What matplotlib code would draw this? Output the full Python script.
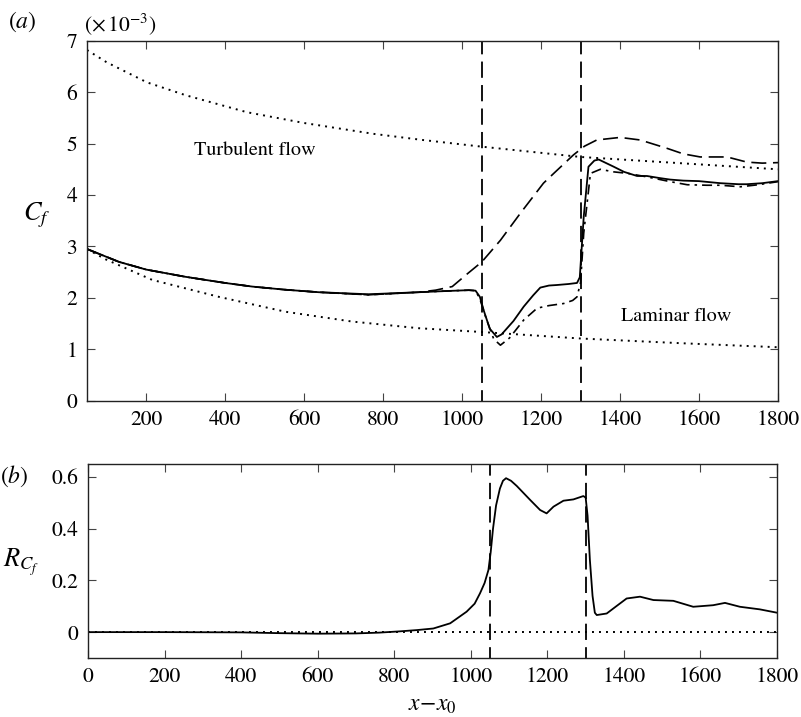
import matplotlib
matplotlib.use('Agg')
import matplotlib.pyplot as plt

plt.rcParams['font.family'] = ['STIXGeneral', 'DejaVu Serif']
plt.rcParams['mathtext.fontset'] = 'stix'
plt.rcParams['font.size'] = 14

# panel (a): skin friction coefficient (x 1e-3)
x_turb = [50, 100, 202, 300, 455, 600, 775, 900, 1050, 1300, 1550, 1800]
cf_turb = [6.82, 6.58, 6.19, 5.94, 5.61, 5.40, 5.19, 5.07, 4.94, 4.74, 4.62, 4.50]

x_lam = [50, 97, 215, 384, 553, 721, 890, 1042, 1300, 1550, 1800]
cf_lam = [2.95, 2.75, 2.35, 2.02, 1.73, 1.54, 1.41, 1.34, 1.21, 1.12, 1.04]

x_solid = [50, 131, 200, 299, 400, 468, 550, 637, 763, 890, 950, 1017, 1034, 1045, 1055,
           1070, 1088, 1100, 1130, 1156, 1180, 1198, 1220, 1240, 1270, 1291, 1298, 1308,
           1320, 1335, 1346, 1365, 1384, 1410, 1443, 1468, 1500, 1527, 1560, 1600, 1654,
           1700, 1721, 1760, 1800]
cf_solid = [2.95, 2.70, 2.55, 2.41, 2.29, 2.22, 2.16, 2.11, 2.07, 2.11, 2.13, 2.15, 2.14, 2.02, 1.75,
            1.40, 1.24, 1.29, 1.55, 1.83, 2.05, 2.20, 2.24, 2.25, 2.27, 2.29, 2.40, 3.58,
            4.55, 4.67, 4.69, 4.62, 4.55, 4.45, 4.37, 4.37, 4.33, 4.30, 4.28, 4.27, 4.23,
            4.21, 4.21, 4.23, 4.27]

x_dashdot = [50, 131, 200, 299, 400, 468, 550, 637, 763, 890, 950, 1017, 1034, 1045, 1060,
             1080, 1097, 1120, 1156, 1190, 1220, 1257, 1280, 1291, 1300, 1308, 1325, 1350,
             1384, 1420, 1470, 1527, 1570, 1620, 1654, 1705, 1750, 1800]
cf_dashdot = [2.95, 2.70, 2.55, 2.41, 2.29, 2.22, 2.16, 2.11, 2.06, 2.11, 2.13, 2.15, 2.14, 1.98, 1.62,
              1.20, 1.08, 1.22, 1.57, 1.80, 1.85, 1.89, 1.95, 2.02, 2.30, 3.26, 4.42, 4.50,
              4.45, 4.42, 4.35, 4.26, 4.20, 4.19, 4.19, 4.16, 4.20, 4.26]

x_dash = [50, 131, 200, 299, 400, 468, 550, 637, 763, 890, 933, 975, 1012, 1050, 1097, 1147,
          1206, 1232, 1282, 1310, 1341, 1400, 1451, 1518, 1560, 1603, 1671, 1721, 1760, 1800]
cf_dash = [2.95, 2.70, 2.55, 2.41, 2.29, 2.22, 2.16, 2.11, 2.06, 2.11, 2.15, 2.22, 2.46, 2.70, 3.12, 3.64,
           4.23, 4.42, 4.78, 4.95, 5.07, 5.12, 5.07, 4.91, 4.80, 4.74, 4.74, 4.64, 4.62, 4.63]

# panel (b)
x_r = [0, 200, 400, 500, 600, 700, 760, 815, 860, 902, 946, 989, 1010, 1024, 1036, 1046,
       1052, 1058, 1066, 1076, 1084, 1092, 1105, 1120, 1155, 1181, 1198, 1216, 1242, 1268,
       1294, 1300, 1305, 1311, 1318, 1324, 1329, 1355, 1380, 1407, 1442, 1477, 1529, 1581,
       1633, 1664, 1703, 1755, 1800]
r_cf = [0.0, 0.0, -0.001, -0.004, -0.006, -0.005, -0.002, 0.003, 0.008, 0.014, 0.034, 0.079,
        0.11, 0.15, 0.19, 0.24, 0.31, 0.40, 0.49, 0.555, 0.585, 0.595, 0.585, 0.565, 0.511,
        0.472, 0.459, 0.485, 0.508, 0.513, 0.526, 0.52, 0.45, 0.28, 0.14, 0.075, 0.066, 0.072,
        0.10, 0.13, 0.137, 0.124, 0.121, 0.098, 0.104, 0.113, 0.098, 0.088, 0.075]

x_lines = [1050, 1300]

fig = plt.figure(figsize=(8.01, 7.17), dpi=100)
ax1 = fig.add_axes([0.1086, 0.4411, 0.8627, 0.5021])
ax2 = fig.add_axes([0.1099, 0.0823, 0.8602, 0.2706])

dots = (0, (1, 2.6))
ax1.plot(x_turb, cf_turb, color='k', lw=1.4, linestyle=dots)
ax1.plot(x_lam, cf_lam, color='k', lw=1.4, linestyle=dots)
ax1.plot(x_dash, cf_dash, color='k', lw=1.2, linestyle=(0, (9, 4)))
ax1.plot(x_dashdot, cf_dashdot, color='k', lw=1.2, linestyle=(0, (6, 3, 1.5, 3)))
ax1.plot(x_solid, cf_solid, color='k', lw=1.3)
for xv in x_lines:
    ax1.axvline(xv, color='k', lw=1.3, linestyle=(3, (9, 4)))
ax1.set_xlim(50, 1800)
ax1.set_ylim(0, 7)
ax1.set_xticks(range(200, 1801, 200))
ax1.set_yticks(range(0, 8))
ax1.text(474, 4.86, 'Turbulent flow', ha='center', va='center', fontsize=14.5)
ax1.text(1543, 1.63, 'Laminar flow', ha='center', va='center', fontsize=14.5)

ax2.plot([0, 1800], [0, 0], color='k', lw=1.4, linestyle=dots)
ax2.plot(x_r, r_cf, color='k', lw=1.3)
for xv in x_lines:
    ax2.axvline(xv, color='k', lw=1.3, linestyle=(3, (9, 4)))
ax2.set_xlim(0, 1800)
ax2.set_ylim(-0.1, 0.65)
ax2.set_xticks(range(0, 1801, 200))
ax2.set_yticks([0, 0.2, 0.4, 0.6])
ax2.set_yticklabels(['0', '0.2', '0.4', '0.6'])
ax2.set_xlabel(r'$x\!-\!x_0$', labelpad=5, fontsize=17)

for ax in (ax1, ax2):
    ax.tick_params(direction='in', top=True, right=True, length=6, width=0.8, pad=7,
                   labelsize=15.5, color='#444444')
    for s in ax.spines.values():
        s.set_linewidth(1.0)
        s.set_color('#222222')

fig.text(0.028, 0.970, r'$(a)$', ha='center', va='center', fontsize=17)
fig.text(0.105, 0.967, r'$(\times\,10^{-3})$', ha='left', va='center', fontsize=15.5)
fig.text(0.046, 0.700, r'$C_f$', ha='center', va='center', fontsize=19)
fig.text(0.018, 0.336, r'$(b)$', ha='center', va='center', fontsize=17)
fig.text(0.026, 0.215, r'$R_{C_f}$', ha='center', va='center', fontsize=19)

fig.savefig('out.png', dpi=100)
